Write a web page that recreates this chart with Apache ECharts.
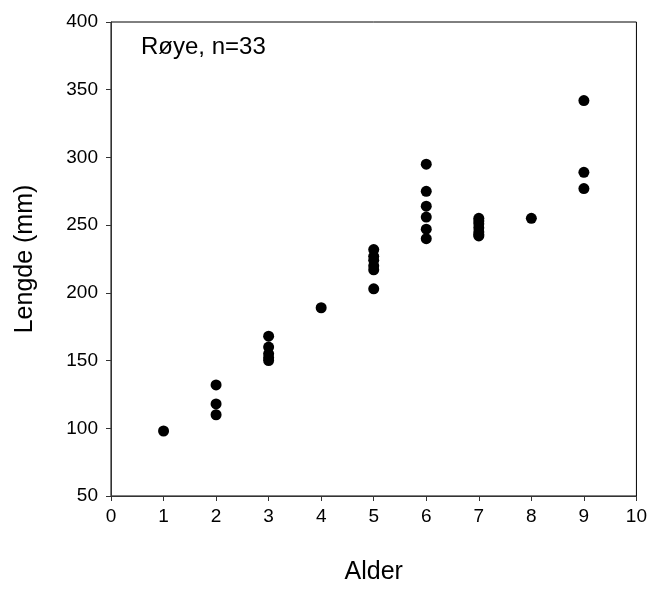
<!DOCTYPE html>
<html>
<head>
<meta charset="utf-8">
<script src="https://cdn.jsdelivr.net/npm/echarts@6/dist/echarts.min.js"></script>
<style>html,body{margin:0;padding:0;background:#fff}#c{width:650px;height:590px}</style>
</head>
<body>
<div id="c"></div>
<script>
const ages    = [1, 2,2,2, 3,3,3,3,3, 4, 5,5,5,5,5,5, 6,6,6,6,6,6, 7,7,7,7,7,7,7, 8, 9,9,9];
const lengths = [98, 132,118,110, 168,160,155,152,150, 189, 232,227,224,220,217,203, 295,275,264,256,247,240, 255,253,251,248,245,243,242, 255, 342,289,277];
const xTicks = [0,1,2,3,4,5,6,7,8,9,10];
const yTicks = [50,100,150,200,250,300,350,400];
const label = 'Røye, n=33';

const chart = echarts.init(document.getElementById('c'), null, {renderer: 'canvas'});
const font = 'Liberation Sans, Arial, sans-serif';
chart.setOption({
  animation: false,
  backgroundColor: '#fff',
  title: {text: label, left: 136, top: 30, textStyle: {fontFamily: font, fontSize: 24, fontWeight: 'normal', color: '#000'}},
  grid: {left: 111, right: 9, top: 22, bottom: 89, show: true, borderColor: '#000', borderWidth: 1},
  xAxis: {
    type: 'value', min: xTicks[0], max: xTicks[xTicks.length-1], interval: 1,
    name: 'Alder', nameLocation: 'middle', nameGap: 64,
    nameTextStyle: {fontFamily: font, fontSize: 25, color: '#000'},
    axisLine: {onZero: false, lineStyle: {color: '#333', width: 1}},
    axisTick: {inside: false, length: 5, lineStyle: {color: '#333'}},
    axisLabel: {fontFamily: font, fontSize: 19, color: '#000', margin: 11},
    splitLine: {show: false}
  },
  yAxis: {
    type: 'value', min: yTicks[0], max: yTicks[yTicks.length-1], interval: 50,
    name: 'Lengde (mm)', nameLocation: 'middle', nameGap: 73,
    nameTextStyle: {fontFamily: font, fontSize: 25, color: '#000'},
    axisLine: {onZero: false, lineStyle: {color: '#333', width: 1}},
    axisTick: {inside: false, length: 5, lineStyle: {color: '#333'}},
    axisLabel: {fontFamily: font, fontSize: 19, color: '#000', margin: 13},
    splitLine: {show: false}
  },
  series: [{
    type: 'scatter',
    symbol: 'circle', symbolSize: 11,
    itemStyle: {color: '#000', opacity: 1},
    data: ages.map((a, i) => [a, lengths[i]])
  }]
});
</script>
</body>
</html>
